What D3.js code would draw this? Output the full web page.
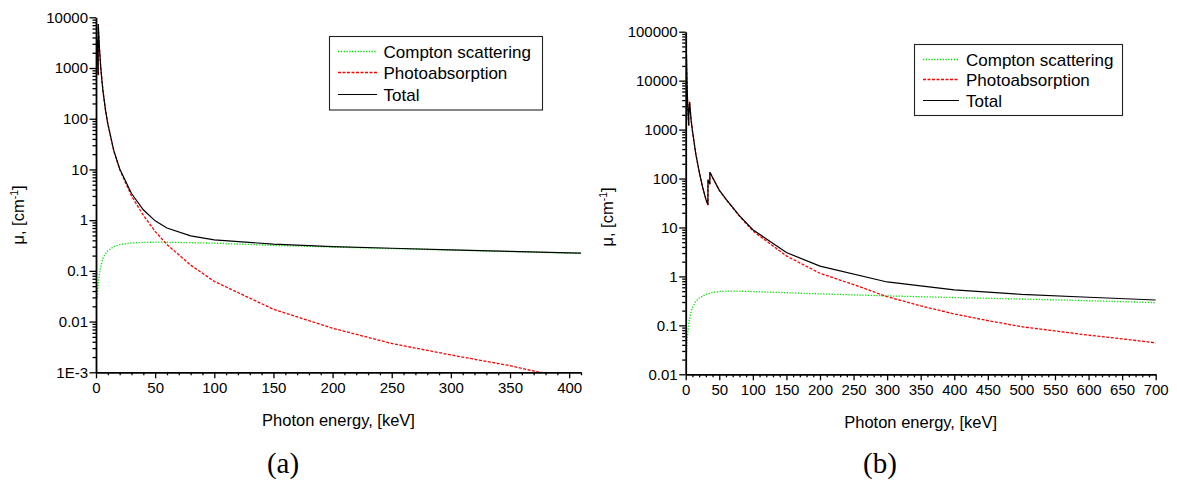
<!DOCTYPE html>
<html><head><meta charset="utf-8">
<script src="https://cdn.jsdelivr.net/npm/d3@7/dist/d3.min.js"></script>
<style>body{margin:0;background:#fff}svg{display:block}</style>
</head><body>
<svg id="c" width="1177" height="482"></svg>
<script>
// ---------- Panel (a) data ----------
const aComptonE = [1, 1.5, 2, 3, 4, 5, 6, 8, 10, 15, 20, 30, 40, 50, 60, 80, 100, 150, 200, 250, 300, 350, 400, 410];
const aComptonV = [0.03, 0.045, 0.06, 0.09, 0.12, 0.15, 0.18, 0.22, 0.25, 0.3, 0.33, 0.355, 0.365, 0.368, 0.367, 0.36, 0.352, 0.318, 0.295, 0.275, 0.257, 0.24, 0.224, 0.221];
const aPhotoE = [1, 1.5, 1.83, 1.84, 2, 3, 4, 5, 6, 8, 10, 15, 20, 30, 40, 50, 60, 80, 100, 150, 200, 250, 300, 350, 375, 400, 410];
const aPhotoV = [3650, 1250, 720, 7400, 6450, 2270, 1050, 566, 339, 150, 79, 23.4, 10, 3.0, 1.25, 0.6, 0.33, 0.13, 0.062, 0.0175, 0.0074, 0.0037, 0.0022, 0.00135, 0.001, 0.00088, 0.00083];
const aTotalE = [1, 1.5, 1.83, 1.84, 2, 3, 4, 5, 6, 8, 10, 15, 20, 30, 40, 50, 60, 80, 100, 150, 200, 250, 300, 350, 400, 410];
const aTotalV = [3650, 1250, 720, 7400, 6450, 2270, 1050, 566, 339, 150, 79.3, 23.7, 10.3, 3.35, 1.6, 0.97, 0.7, 0.49, 0.41, 0.336, 0.302, 0.279, 0.259, 0.242, 0.226, 0.223];
const aXTicks = [0, 50, 100, 150, 200, 250, 300, 350, 400];
const aYTicks = [0.001, 0.01, 0.1, 1, 10, 100, 1000, 10000];
const aYLabels = ["1E-3", "0.01", "0.1", "1", "10", "100", "1000", "10000"];

// ---------- Panel (b) data ----------
const bComptonE = [1, 2, 3, 5, 8, 10, 15, 20, 30, 40, 50, 60, 80, 100, 150, 200, 250, 300, 350, 400, 450, 500, 550, 600, 650, 700];
const bComptonV = [0.022, 0.045, 0.07, 0.12, 0.19, 0.23, 0.31, 0.36, 0.43, 0.47, 0.49, 0.5, 0.5, 0.49, 0.465, 0.44, 0.42, 0.4, 0.385, 0.37, 0.357, 0.345, 0.332, 0.318, 0.305, 0.292];
const bPhotoE = [1, 1.5, 2, 3, 4, 4.55, 4.56, 5, 5.01, 5.36, 5.37, 5.71, 5.72, 6, 8, 10, 15, 20, 25, 30, 33.1, 33.2, 35, 35.9, 36, 40, 50, 60, 80, 100, 150, 200, 250, 300, 350, 400, 450, 500, 550, 600, 650, 700];
const bPhotoV = [43000, 17000, 8500, 3000, 1550, 1200, 2600, 2200, 2900, 2600, 3300, 3000, 3700, 3350, 1600, 950, 320, 139.6, 67.6, 37.6, 28.6, 94.6, 81.5, 75.5, 134.5, 104.5, 57.5, 37.5, 17, 8.5, 2.62, 1.16, 0.68, 0.386, 0.25, 0.171, 0.125, 0.094, 0.077, 0.063, 0.053, 0.044];
const bTotalE = [1, 1.5, 2, 3, 4, 4.55, 4.56, 5, 5.01, 5.36, 5.37, 5.71, 5.72, 6, 8, 10, 15, 20, 25, 30, 33.1, 33.2, 35, 35.9, 36, 40, 50, 60, 80, 100, 150, 200, 300, 400, 500, 600, 700];
const bTotalV = [43000, 17000, 8500, 3000, 1550, 1200, 2600, 2200, 2900, 2600, 3300, 3000, 3700, 3350, 1600, 950, 320, 140, 68, 38, 29, 95, 82, 76, 135, 105, 58, 38, 17.5, 9.0, 3.07, 1.62, 0.77, 0.53, 0.43, 0.375, 0.33];
const bXTicks = [0, 50, 100, 150, 200, 250, 300, 350, 400, 450, 500, 550, 600, 650, 700];
const bYTicks = [0.01, 0.1, 1, 10, 100, 1000, 10000, 100000];
const bYLabels = ["0.01", "0.1", "1", "10", "100", "1000", "10000", "100000"];

const seriesNames = ["Compton scattering", "Photoabsorption", "Total"];
const xTitle = "Photon energy, [keV]";

const FONT = "'Liberation Sans', Arial, sans-serif";
const svg = d3.select("#c");
const styles = [
  {color: "#00e600", dash: "1.3,1.5", width: 1.3},
  {color: "#ff0000", dash: "3,1.5", width: 1.3},
  {color: "#000000", dash: null, width: 1.2}
];

function panel(cfg, id) {
  const x = d3.scaleLinear([0, cfg.xMax], [cfg.x0, cfg.x1]);
  const y = d3.scaleLog([cfg.yTicks[0], cfg.yTicks[cfg.yTicks.length - 1]], [cfg.yBot, cfg.yTop]);

  svg.append("clipPath").attr("id", "clip" + id).append("rect")
    .attr("x", cfg.x0).attr("y", cfg.yTop - 20).attr("width", cfg.x1 - cfg.x0 + 2).attr("height", cfg.yBot - cfg.yTop + 20);

  const line = d3.line().x(d => x(d[0])).y(d => y(d[1]));
  const g = svg.append("g").attr("clip-path", `url(#clip${id})`);
  cfg.series.forEach((s, i) => {
    g.append("path").datum(d3.zip(s.E, s.V))
      .attr("d", line).attr("fill", "none")
      .attr("stroke", styles[i].color).attr("stroke-width", styles[i].width)
      .attr("stroke-dasharray", styles[i].dash);
  });

  // minor ticks
  const xMinor = d3.range(0, cfg.xMax + 0.001, cfg.xMinorStep).filter(v => v % 50 !== 0);
  const gxm = svg.append("g").attr("transform", `translate(0,${cfg.yBot})`)
    .call(d3.axisBottom(x).tickValues(xMinor).tickSize(3).tickFormat(""));
  gxm.select(".domain").remove();
  const yMinor = [];
  for (let i = 0; i < cfg.yTicks.length - 1; i++) for (let k = 2; k <= 9; k++) yMinor.push(cfg.yTicks[i] * k);
  const gym = svg.append("g").attr("transform", `translate(${cfg.x0},0)`)
    .call(d3.axisLeft(y).tickValues(yMinor).tickSize(3.5).tickFormat(""));
  gym.select(".domain").remove();

  // major axes
  const gx = svg.append("g").attr("transform", `translate(0,${cfg.yBot})`)
    .call(d3.axisBottom(x).tickValues(cfg.xTicks).tickSize(6).tickSizeOuter(0).tickPadding(4));
  const gy = svg.append("g").attr("transform", `translate(${cfg.x0},0)`)
    .call(d3.axisLeft(y).tickValues(cfg.yTicks).tickSize(6.5).tickSizeOuter(0).tickPadding(1.5)
      .tickFormat((d, i) => cfg.yLabels[i]));
  [gx, gy, gxm, gym].forEach(a => {
    a.attr("font-family", FONT).attr("font-size", 15);
    a.selectAll(".tick line").attr("stroke", "#000").attr("stroke-width", 1.3);
    a.selectAll(".domain").attr("stroke", "#000").attr("stroke-width", 1.8);
    a.selectAll("text").attr("fill", "#000");
  });

  // axis titles
  svg.append("text").attr("x", (cfg.x0 + cfg.x1) / 2).attr("y", cfg.yBot + 54)
    .attr("text-anchor", "middle").attr("font-family", FONT).attr("font-size", 16.5).text(xTitle);
  const yt = svg.append("text").attr("transform", `translate(${cfg.yTitleX},${cfg.yTitleY}) rotate(-90)`)
    .attr("text-anchor", "middle").attr("font-family", FONT).attr("font-size", 16.5);
  yt.append("tspan").text("μ, [cm");
  yt.append("tspan").attr("baseline-shift", "super").attr("font-size", 10.5).text("-1");
  yt.append("tspan").text("]");

  // legend
  const L = cfg.legend;
  const lg = svg.append("g").attr("class", "legend");
  lg.append("rect").attr("x", L.x).attr("y", L.y).attr("width", L.w).attr("height", L.h)
    .attr("fill", "#fff").attr("stroke", "#222").attr("stroke-width", 1.1);
  seriesNames.forEach((n, i) => {
    const yy = Math.round(L.row0 + i * L.dy) + 0.5;
    lg.append("path").attr("d", `M${L.lx0},${yy}H${L.lx1}`)
      .attr("fill", "none")
      .attr("stroke", styles[i].color).attr("stroke-width", styles[i].width)
      .attr("stroke-dasharray", styles[i].dash);
    lg.append("text").attr("x", L.tx).attr("y", yy + 6).attr("font-family", FONT)
      .attr("font-size", 17).attr("fill", "#000").text(n);
  });

  // caption
  svg.append("text").attr("x", cfg.capX).attr("y", 473).attr("text-anchor", "middle")
    .attr("font-family", "'Liberation Serif', 'DejaVu Serif', serif").attr("font-size", 29).text(cfg.caption);
}

panel({
  x0: 96, x1: 581, xMax: 410, yTop: 17.3, yBot: 372.3, xMinorStep: 10,
  xTicks: aXTicks, yTicks: aYTicks, yLabels: aYLabels,
  series: [{E: aComptonE, V: aComptonV}, {E: aPhotoE, V: aPhotoV}, {E: aTotalE, V: aTotalV}],
  yTitleX: 24, yTitleY: 215,
  legend: {x: 329.5, y: 36.5, w: 213, h: 73.5, row0: 50.5, dy: 21.7, lx0: 338, lx1: 377, tx: 383.5},
  capX: 283, caption: "(a)"
}, "a");

panel({
  x0: 685.7, x1: 1155.7, xMax: 700, yTop: 31.7, yBot: 374.3, xMinorStep: 10,
  xTicks: bXTicks, yTicks: bYTicks, yLabels: bYLabels,
  series: [{E: bComptonE, V: bComptonV}, {E: bPhotoE, V: bPhotoV}, {E: bTotalE, V: bTotalV}],
  yTitleX: 613, yTitleY: 217,
  legend: {x: 914.5, y: 44.5, w: 208, h: 71, row0: 58.5, dy: 20.5, lx0: 923, lx1: 959, tx: 966},
  capX: 880, caption: "(b)"
}, "b");
</script>
</body></html>
